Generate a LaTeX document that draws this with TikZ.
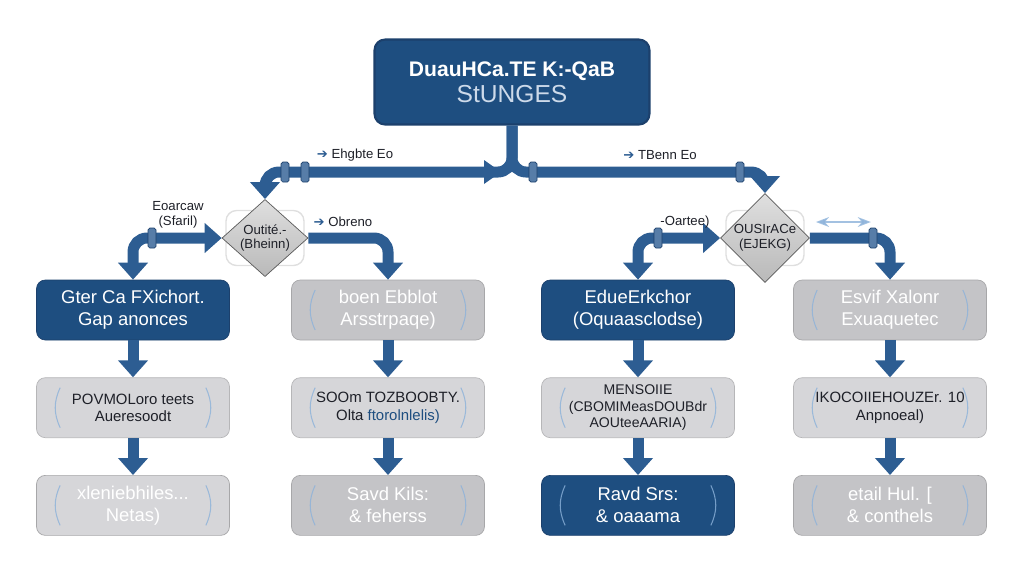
\documentclass[tikz,border=0pt]{standalone}
\usepackage{fontspec}
\setmainfont{Liberation Sans}
\newfontfamily\symfont{DejaVu Sans}
\usetikzlibrary{shapes.geometric,arrows.meta,positioning}

\definecolor{navy}{RGB}{30,78,128}
\definecolor{pipeblue}{RGB}{45,93,146}
\definecolor{pipedark}{RGB}{28,64,108}
\definecolor{boxgray}{RGB}{196,196,199}
\definecolor{palegray}{RGB}{214,214,217}
\definecolor{inkdark}{RGB}{30,32,40}
\definecolor{skyline}{RGB}{140,178,218}
\definecolor{titlesub}{RGB}{205,218,234}

\begin{document}
\begin{tikzpicture}[
    x=0.02cm, y=-0.02cm,
    node distance=0.74cm and 1.2cm,
    bluebox/.style={
        rectangle,
        rounded corners=5pt,
        fill=navy,
        draw=pipedark,
        text=white,
        minimum width=3.86cm,
        minimum height=1.2cm,
        align=center,
        font=\fontsize{10.5}{12.5}\selectfont
    },
    graybox/.style={
        bluebox,
        fill=boxgray,
        draw=boxgray!85!black,
        text=white
    },
    notebox/.style={
        bluebox,
        fill=palegray,
        draw=palegray!85!black,
        text=inkdark,
        font=\fontsize{8.5}{10}\selectfont
    },
    decision/.style={
        diamond,
        draw=gray!70!black,
        top color=gray!25,
        bottom color=gray!55,
        minimum width=1.72cm,
        minimum height=1.52cm,
        inner sep=0pt,
        align=center,
        text=inkdark,
        font=\fontsize{7.5}{8.5}\selectfont
    },
    ghost/.style={
        rectangle,
        rounded corners=6pt,
        draw=gray!25,
        thick,
        minimum width=1.56cm,
        minimum height=1.1cm
    },
    tag/.style={
        align=center,
        text=inkdark,
        font=\fontsize{7.5}{8.5}\selectfont
    },
    pipe/.style={
        draw=pipeblue,
        line width=0.22cm,
        rounded corners=0.28cm,
        -{Triangle[width=0.58cm,length=0.34cm]}
    },
    twoway/.style={
        {Triangle[width=0.58cm,length=0.34cm]}-{Triangle[width=0.58cm,length=0.34cm]}
    },
    flange/.style={
        fill=pipeblue!80!white,
        draw=pipedark,
        rounded corners=1pt
    },
    sketch/.style={
        draw=skyline,
        line width=0.6pt,
        opacity=0.8
    }
]
    \useasboundingbox (0,0) rectangle (1024,576);

    % --- Title ---
    \node [bluebox, minimum width=5.5cm, minimum height=1.7cm, rounded corners=6pt, line width=1.2pt,
           font=\fontsize{12}{15}\selectfont] (title) at (512,82)
        {\textbf{DuauHCa.TE K:-QaB} \\ {\fontsize{14}{17}\selectfont\color{titlesub}StUNGES}};

    % --- Decisions ---
    \node [ghost] (dLg) at (265,238) {};
    \node [ghost] (dRg) at (765,238) {};
    \node [decision] (dL) at (265,238) {Outit\'e.-\\(Bheinn)};
    \node [decision] (dR) at (765,238) {OUSIrACe\\(EJEKG)};
    \coordinate (split) at (512,172);

    % --- Boxes ---
    \node [bluebox] (s1top) at (133,310) {Gter Ca FXichort.\\Gap anonces};
    \node [notebox, below=of s1top] (s1mid) {POVMOLoro teets\\Aueresoodt};
    \node [graybox, fill=palegray, below=of s1mid] (s1low) {xleniebhiles...\\Netas)};

    \node [graybox] (s2top) at (388,310) {boen Ebblot\\Arsstrpaqe)};
    \node [notebox, below=of s2top] (s2mid) {SOOm TOZBOOBTY.\\Olta {\color{navy}ftorolnlelis)}};
    \node [graybox, below=of s2mid] (s2low) {Savd Kils:\\\& feherss};

    \node [bluebox] (s3top) at (638,310) {EdueErkchor\\(Oquaasclodse)};
    \node [notebox, below=of s3top, font=\fontsize{8}{9.5}\selectfont] (s3mid) {MENSOIIE\\(CBOMIMeasDOUBdr\\AOUteeAARIA)};
    \node [bluebox, below=of s3mid] (s3low) {Ravd Srs:\\\& oaaama};

    \node [graybox] (s4top) at (890,310) {Esvif Xalonr\\Exuaquetec};
    \node [notebox, below=of s4top] (s4mid) {IKOCOIIEHOUZEr. 10\\Anpnoeal)};
    \node [graybox, below=of s4mid] (s4low) {etail Hul. [\\\& conthels};

    % --- Pipes ---
    \draw [pipe] (title.south) -- (split) -| (dL.north);
    \draw [pipe] (title.south) -- (split) -| (dR.north);
    \fill [pipeblue] (484,160) -- (501,172) -- (484,184) -- cycle;
    \draw [pipe, twoway] (dL.west) -| (s1top.north);
    \draw [pipe] (dL.east) -| (s2top.north);
    \draw [pipe, twoway] (dR.west) -| (s3top.north);
    \draw [pipe] (dR.east) -| (s4top.north);
    \foreach \fx/\fy in {285/172, 305/172, 533/172, 740/172, 152/238, 658/238, 873/238}
        \filldraw [flange] (\fx-4,\fy-10) rectangle (\fx+4,\fy+10);

    \foreach \c in {1,...,4} {
        \draw [pipe] (s\c top) -- (s\c mid);
        \draw [pipe] (s\c mid) -- (s\c low);
    }

    % --- Labels ---
    \node [tag] (tagA) at (355,155) {{\symfont\color{pipeblue}➔} Ehgbte Eo};
    \node [tag] (tagB) at (660,155) {{\symfont\color{pipeblue}➔} TBenn Eo};
    \node [tag] (tagC) at (178,215) {Eoarcaw\\(Sfaril)};
    \node [tag] (tagD) at (343,222) {{\symfont\color{pipeblue}➔} Obreno};
    \node [tag] (tagE) at (685,222) {-Oartee)};
    \draw [sketch, line width=1pt, {Stealth}-{Stealth}] ([shift={(6,-16)}]dR.east) -- ++(55,0);

    % sketchy brackets
    \foreach \b in {s1mid, s1low, s2top, s2mid, s2low, s3mid, s3low, s4top, s4mid, s4low} {
        \draw [sketch] ([shift={(24,-20)}]\b.west) to[bend right=25] ([shift={(24,20)}]\b.west);
        \draw [sketch] ([shift={(-24,-20)}]\b.east) to[bend left=25] ([shift={(-24,20)}]\b.east);
    }
\end{tikzpicture}
\end{document}
